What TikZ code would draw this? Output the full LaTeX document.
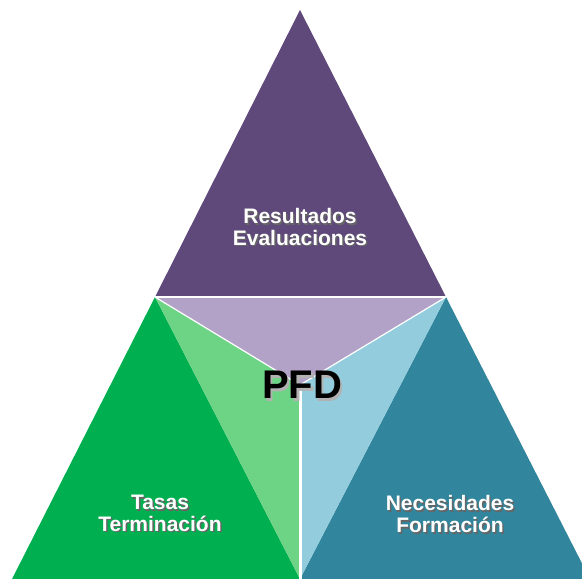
\documentclass[tikz,border=0pt]{standalone}
\usepackage{fontspec}
\setmainfont{Liberation Sans}
\usetikzlibrary{calc, positioning}

\definecolor{topface}{HTML}{5F497A}
\definecolor{midface}{HTML}{B3A2C7}
\definecolor{greenface}{HTML}{00B050}
\definecolor{greenlight}{HTML}{6DD486}
\definecolor{tealface}{HTML}{31859C}
\definecolor{bluelight}{HTML}{93CDDD}

% text with a soft drop shadow: #1 shadow colour, #2 offset, #3 text
\newcommand{\shadowtxt}[3]{%
	\leavevmode\rlap{\kern#2\raisebox{-#2}{\textcolor{#1}{\begin{tabular}{@{}c@{}}#3\end{tabular}}}}%
	\begin{tabular}{@{}c@{}}#3\end{tabular}}

\begin{document}
\begin{tikzpicture}[x=1pt, y=-1pt]
	\tikzstyle{facetext} = [text=white, inner sep=0pt, font=\fontsize{21}{21}\selectfont\bfseries]
	\tikzstyle{gap} = [draw=white, line width=1.5pt]

	\useasboundingbox (0,0) rectangle (582,579);
	\clip (0,0) rectangle (582,579);

	\coordinate (apex) at (300,10);
	\coordinate (west) at (155,297);
	\coordinate (east) at (446,297);
	\coordinate (centre) at (300,385);
	\coordinate (sw) at (12,579);
	\coordinate (s) at (300,579);
	\coordinate (se) at (590,579);

	% faces
	\fill[topface] (apex) -- (west) -- (east) -- cycle;
	\fill[midface] (west) -- (east) -- (centre) -- cycle;
	\fill[greenface] (west) -- (sw) -- (s) -- cycle;
	\fill[greenlight] (west) -- (centre) -- (s) -- cycle;
	\fill[tealface] (east) -- (s) -- (se) -- cycle;
	\fill[bluelight] (east) -- (centre) -- (s) -- cycle;

	% white seams
	\draw[gap] (west) -- (east);
	\draw[gap, line width=1.2pt] (west) -- (centre) -- (east);
	\draw[gap, line width=3pt] (centre) -- (s);

	\path
		node[facetext] (results) at (300,231) {\shadowtxt{black!60}{1.5pt}{Resultados\\Evaluaciones}}
		node[facetext] (rates) at (160,517) {\shadowtxt{black!60}{1.5pt}{Tasas\\Terminación}}
		node[facetext] (needs) at (450,518) {\shadowtxt{black!60}{1.5pt}{Necesidades\\Formación}}
		node[facetext, text=black, font=\fontsize{40}{40}\selectfont\bfseries] (pfd) at (302,392) {\shadowtxt{black!30}{2.5pt}{PFD}}
	;
\end{tikzpicture}
\end{document}
